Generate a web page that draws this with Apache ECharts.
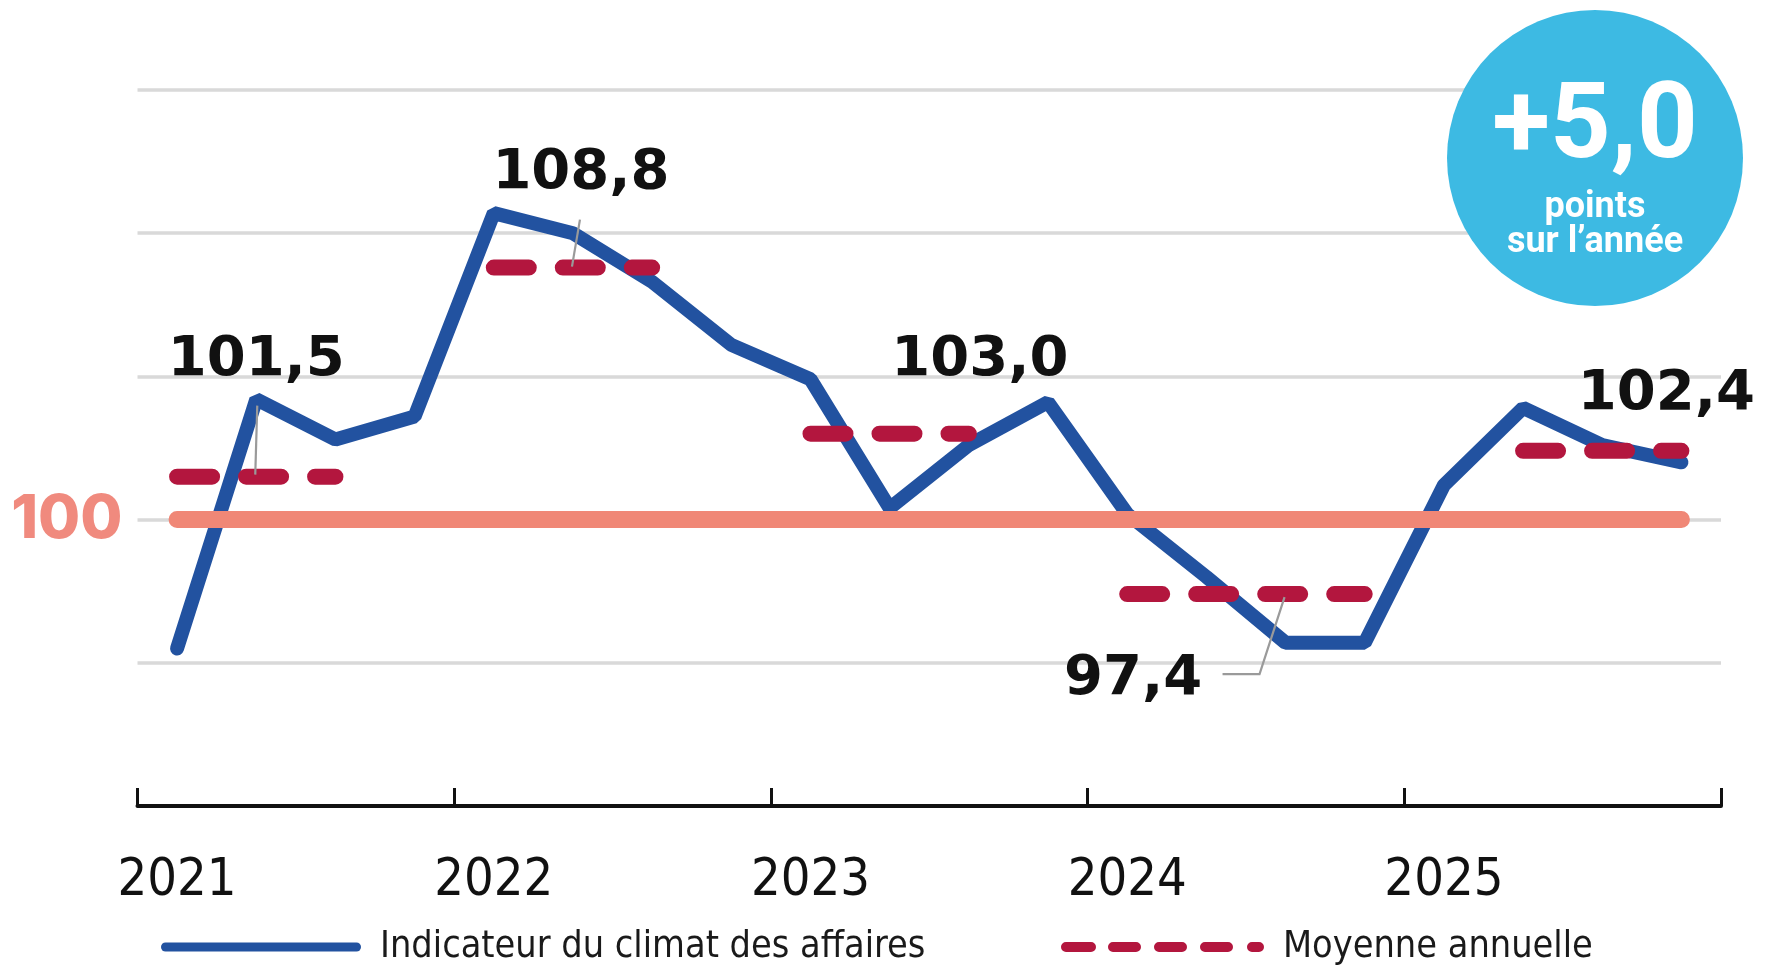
<!DOCTYPE html>
<html><head><meta charset="utf-8">
<script src="https://cdn.jsdelivr.net/npm/echarts@6/dist/echarts.min.js"></script>
<style>html,body{margin:0;padding:0;background:#fff}#c{width:1767px;height:968px}</style>
</head><body><div id="c"></div>
<script>
// ---- data ----
const quarters = ['2021 T1','2021 T2','2021 T3','2021 T4','2022 T1','2022 T2','2022 T3','2022 T4',
  '2023 T1','2023 T2','2023 T3','2023 T4','2024 T1','2024 T2','2024 T3','2024 T4',
  '2025 T1','2025 T2','2025 T3','2025 T4'];
const yearLabels = ['2021','2022','2023','2024','2025'];
const climat = [95.5,104.2,102.8,103.6, 110.7,110.0,108.3,106.1, 104.9,100.4,102.6,104.1,
  100.2,98.0,95.7,95.7, 101.2,103.9,102.6,102.0];
const moyennes = [101.5,108.8,103.0,97.4,102.4];
const moyenneDebut = [0,4,8,12,17];   // first quarter index covered by each annual mean
const moyenneFin = [2,6,10,15,19];    // last quarter index covered
const reference = 100;
const yMin = 90, yMax = 115, yStep = 5;
const seriesNames = ['Indicateur du climat des affaires','Moyenne annuelle'];
const badgeSub = ['points','sur l\u2019année'];

// ---- derived ----
const fmt = v => v.toFixed(1).replace('.', ',');
const avgData = quarters.map(() => null);
moyennes.forEach((m, k) => { for (let i = moyenneDebut[k]; i <= moyenneFin[k]; i++) avgData[i] = m; });
const refData = quarters.map(() => reference);
const variation = moyennes[moyennes.length-1] - moyennes[moyennes.length-2];
const badgeMain = (variation >= 0 ? '+' : '') + fmt(variation);

const BLUE = '#2252A0', RED = '#B3163E', SALMON = '#F08776';
const condensed = "'Liberation Sans Narrow','DejaVu Sans Condensed','Liberation Sans',sans-serif";

// legend icons (pill shapes)
function pill(x0, x1, h) {
  const r = h / 2;
  return `M${x0+r} 0 H${x1-r} A${r} ${r} 0 0 1 ${x1-r} ${h} H${x0+r} A${r} ${r} 0 0 1 ${x0+r} 0 Z `;
}
const iconSolid = 'path://' + pill(0, 200, 9);
const iconDash = 'path://' + [[0,35],[47,80],[93,126],[139,172],[186,203]].map(s => pill(s[0], s[1], 10)).join('');

const chart = echarts.init(document.getElementById('c'), null, {renderer:'canvas'});
const legendText = {color:'#1a1a1a', fontFamily:condensed, fontSize:37.5, padding:[0,0,0,14]};
chart.setOption({
  animation:false,
  backgroundColor:'#fff',
  grid:{left:137.5, right:46, top:90, bottom:162},
  xAxis:{type:'category', data:quarters, boundaryGap:true,
    axisLine:{lineStyle:{color:'#111', width:4}},
    axisTick:{show:true, inside:true, length:18, interval:3, lineStyle:{color:'#111', width:3}},
    axisLabel:{interval:3, formatter:(v,i)=> i%4===0 ? yearLabels[i/4] : '', color:'#111',
      fontFamily:condensed, fontSize:52, margin:49},
    splitLine:{show:false}},
  yAxis:{type:'value', min:yMin, max:yMax, interval:yStep,
    axisLine:{show:false}, axisTick:{show:false},
    axisLabel:{formatter:v => v===reference ? String(reference) : '', color:'#F08A7E',
      fontFamily:"Inter, Lato, sans-serif", fontWeight:800, fontSize:61, margin:15},
    splitLine:{lineStyle:{color:'#D9D9D9', width:3.5}}},
  legend:[
    {left:161, top:928, padding:0, itemWidth:200, itemHeight:9, selectedMode:false, symbolKeepAspect:false,
     data:[{name:seriesNames[0], icon:iconSolid}], textStyle:legendText},
    {left:1061, top:928, padding:0, itemWidth:203, itemHeight:10, selectedMode:false, symbolKeepAspect:false,
     data:[{name:seriesNames[1], icon:iconDash}], textStyle:legendText}
  ],
  series:[
    {name:seriesNames[0], type:'line', data:climat, symbol:'none', z:2,
     lineStyle:{color:BLUE, width:14, cap:'round'}, itemStyle:{color:BLUE}},
    {name:'Référence', type:'line', data:refData, symbol:'none', z:3, silent:true,
     lineStyle:{color:SALMON, width:17, cap:'round'}, itemStyle:{color:SALMON}},
    {name:seriesNames[1], type:'line', data:avgData, symbol:'none', connectNulls:false, z:4,
     lineStyle:{color:RED, width:16, type:[35,34], cap:'round'}, itemStyle:{color:RED}}
  ]
});

// ---- annotations anchored through the library's scales ----
const P = (q, v) => chart.convertToPixel({seriesIndex:2}, [q, v]);
const labelAnchors = [{q:1,dx:0,dy:-116},{q:5,dx:8,dy:-94},{q:10,dx:11,dy:-73},{q:12,dx:6,dy:85},{q:19,dx:-15,dy:-56}];
const graphics = [];
moyennes.forEach((m, k) => {
  const a = labelAnchors[k];
  const p = P(a.q, m);
  graphics.push({type:'text', z:100, x:p[0]+a.dx, y:p[1]+a.dy,
    style:{text:fmt(m), fill:'#111', font:"bold 56px 'DejaVu Sans'", textAlign:'center', textVerticalAlign:'middle'}});
});
const leaders = [
  {k:0, q:1, pts:[[1,-71],[-1,-2]]},
  {k:1, q:5, pts:[[7,-48],[-1,-1]]},
  {k:3, q:14, pts:[[-63,80],[-26,80],[-1,3]]}
];
leaders.forEach(L => {
  const p = P(L.q, moyennes[L.k]);
  graphics.push({type:'polyline', z:99, shape:{points:L.pts.map(d => [p[0]+d[0], p[1]+d[1]])},
    style:{stroke:'#9a9a9a', lineWidth:2.2, fill:null}});
});
// badge
graphics.push({type:'circle', z:200, shape:{cx:1595, cy:158, r:148}, style:{fill:'#3DBAE3'}});
graphics.push({type:'text', z:201, x:1595, y:130, style:{text:badgeMain, fill:'#fff',
  font:"bold 106px Roboto", textAlign:'center', textVerticalAlign:'middle'}});
graphics.push({type:'text', z:201, x:1595, y:208, style:{text:badgeSub[0], fill:'#fff',
  font:"bold 36px Roboto", textAlign:'center', textVerticalAlign:'middle'}});
graphics.push({type:'text', z:201, x:1595, y:243, style:{text:badgeSub[1], fill:'#fff',
  font:"bold 36px Roboto", textAlign:'center', textVerticalAlign:'middle'}});
chart.setOption({graphic:graphics});
</script>
</body></html>
